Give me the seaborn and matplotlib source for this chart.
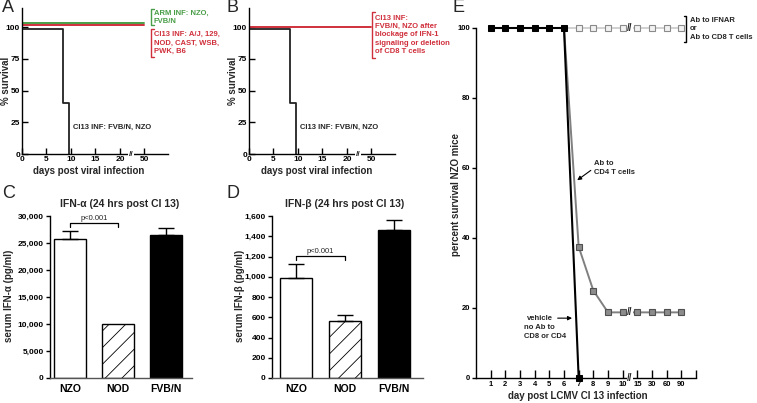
import numpy as np
import pandas as pd
import seaborn as sns
import matplotlib.pyplot as plt
from matplotlib.lines import Line2D
from matplotlib.ticker import StrMethodFormatter

# panels A / B : survival after infection (x positions, 25 = "50" after the axis break)
surv_tick_pos = [0, 5, 10, 15, 20, 25]
surv_tick_lab = ['0', '5', '10', '15', '20', '50']
km_days = [0, 8.4, 9.6]
km_fvb_nzo_A = [98.5, 40, 0]
km_fvb_nzo_B = [98.5, 40, 0]
flat_days = [0, 25]
arm_nzo_fvb = [103, 103]
cl13_other = [101.8, 101.8]
cl13_blocked = [100.3, 100.3]

# panels C / D : serum interferon
strains = ['NZO', 'NOD', 'FVB/N']
ifna_mean = [25800, 10000, 26400]
ifna_err = [1500, 0, 1350]
ifnb_mean = [990, 563, 1465]
ifnb_err = [135, 60, 100]

# panel E : survival of NZO mice
e_labels = ['1', '2', '3', '4', '5', '6', '7', '8', '9', '10', '15', '30', '60', '90']
vehicle = [100, 100, 100, 100, 100, 100, 0]
ab_cd4 = [100, 100, 100, 100, 100, 100, 37.5, 25, 18.75, 18.75, 18.75, 18.75, 18.75, 18.75]
ab_ifnar_cd8 = [100, 100, 100, 100, 100, 100, 100, 100, 100, 100, 100, 100, 100, 100]

GREEN = '#4a9e48'
RED = '#d0303c'

sns.set_theme(style='ticks')
plt.rcParams['font.family'] = ['Liberation Sans', 'DejaVu Sans']
plt.rcParams['font.weight'] = 'bold'
plt.rcParams['axes.linewidth'] = 1.0
plt.rcParams['hatch.linewidth'] = 0.6
plt.rcParams['axes.edgecolor'] = 'black'

W, H = 757, 403
fig = plt.figure(figsize=(W / 100, H / 100), dpi=100)


def add_ax(l, t, r, b):
    return fig.add_axes([l / W, 1 - b / H, (r - l) / W, (b - t) / H])


def ftext(x, y, s, **kw):
    kw.setdefault('va', 'center')
    return fig.text(x / W, 1 - y / H, s, **kw)


def bracket(x, y0, y1, color, tick=3):
    pts = [(x + tick, y0), (x, y0), (x, y1), (x + tick, y1)]
    fig.add_artist(Line2D([p[0] / W for p in pts], [1 - p[1] / H for p in pts],
                          color=color, lw=1.0, transform=fig.transFigure))


def survival_axes(ax):
    ax.set_xlim(0, 29.8)
    ax.set_ylim(0, 115)
    ax.set_xticks(surv_tick_pos, surv_tick_lab)
    ax.set_yticks([0, 25, 50, 75, 100])
    ax.tick_params(direction='in', length=4, width=1, labelsize=6, pad=1.5, colors='black')
    sns.despine(ax=ax)
    ax.text(22.3, 0, '//', ha='center', va='center', fontsize=6,
            bbox=dict(facecolor='white', edgecolor='none', pad=0.3))
    ax.set_xlabel('')
    ax.set_ylabel('')


# ---- A
axA = add_ax(22, 8, 168, 154)
sns.lineplot(x=flat_days, y=arm_nzo_fvb, color=GREEN, lw=1.4, ax=axA)
sns.lineplot(x=flat_days, y=cl13_other, color=RED, lw=1.4, ax=axA)
sns.lineplot(x=km_days, y=km_fvb_nzo_A, color='#222222', lw=1.3, drawstyle='steps-post', ax=axA)
survival_axes(axA)

# ---- B
axB = add_ax(249, 8, 395, 154)
sns.lineplot(x=km_days, y=km_fvb_nzo_B, color='#222222', lw=1.3, drawstyle='steps-post', ax=axB)
sns.lineplot(x=flat_days, y=cl13_blocked, color=RED, lw=1.4, ax=axB)
survival_axes(axB)

for x0 in (0, 227):
    ftext(x0 + 6, 81, '% survival', rotation=90, ha='center', fontsize=7)
    ftext(x0 + 89 + (228 if x0 else 0) - x0, 171, 'days post viral infection', ha='center', fontsize=7)
ftext(2, 8, 'A', fontsize=13, fontweight='normal')
ftext(227, 8, 'B', fontsize=13, fontweight='normal')
ftext(73, 127, 'Cl13 INF: FVB/N, NZO', fontsize=5.5)
ftext(300, 127, 'Cl13 INF: FVB/N, NZO', fontsize=5.5)

bracket(151, 9, 25, GREEN)
ftext(154, 17, 'ARM INF: NZO,\nFVB/N', color=GREEN, fontsize=5.5, linespacing=1.25)
bracket(151, 29, 57, RED)
ftext(154, 43, 'Cl13 INF: A/J, 129,\nNOD, CAST, WSB,\nPWK, B6', color=RED, fontsize=5.5, linespacing=1.25)
bracket(372, 12, 58, RED)
ftext(375, 35, 'Cl13 INF:\nFVB/N, NZO after\nblockage of IFN-1\nsignaling or deletion\nof CD8 T cells',
      color=RED, fontsize=5.5, linespacing=1.25)


# ---- C / D bars
def bar_panel(ax, means, errs, ymax, step, xlim, pbar, ptext):
    sns.barplot(x=strains, y=means, ax=ax, width=0.66, color='white', edgecolor='black',
                linewidth=1, errorbar=None)
    faces = ['white', 'white', 'black']
    hatches = [None, '//', None]
    for patch, fc, ht in zip(ax.patches, faces, hatches):
        patch.set_facecolor(fc)
        patch.set_edgecolor('black')
        if ht:
            patch.set_hatch(ht)
    idx = [i for i, e in enumerate(errs) if e > 0]
    ax.errorbar([i for i in idx], [means[i] for i in idx],
                yerr=[[0] * len(idx), [errs[i] for i in idx]],
                fmt='none', ecolor='black', elinewidth=1, capsize=6, capthick=1, zorder=1)
    ax.set_xlim(*xlim)
    ax.set_ylim(0, ymax)
    ax.set_yticks(np.arange(0, ymax + 1, step))
    ax.yaxis.set_major_formatter(StrMethodFormatter('{x:,.0f}'))
    ax.tick_params(axis='y', direction='out', length=3, width=1, labelsize=6, pad=1.5, colors='black')
    ax.tick_params(axis='x', length=0, labelsize=7.5, pad=4, colors='black')
    sns.despine(ax=ax)
    ax.spines['bottom'].set_color('#555555')
    ax.set_xlabel('')
    ax.set_ylabel('')
    y_low, y_high = pbar
    ax.plot([0, 0, 1, 1], [y_low, y_high, y_high, y_low], color='black', lw=0.9, clip_on=False)
    ax.text(0.5, ptext, 'p<0.001', ha='center', va='bottom', fontsize=5.5, fontweight='normal')


axC = add_ax(50, 216, 192, 378)
bar_panel(axC, ifna_mean, ifna_err, 30000, 5000, (-0.42, 2.54), (27950, 28650), 28800)
axD = add_ax(272, 216, 423, 378)
bar_panel(axD, ifnb_mean, ifnb_err, 1600, 200, (-0.49, 2.59), (1165, 1205), 1212)

ftext(120, 204, 'IFN-α (24 hrs post Cl 13)', ha='center', fontsize=7.5)
ftext(345, 204, 'IFN-β (24 hrs post Cl 13)', ha='center', fontsize=7.5)
ftext(9, 296, 'serum IFN-α (pg/ml)', rotation=90, ha='center', fontsize=7)
ftext(240, 296, 'serum IFN-β (pg/ml)', rotation=90, ha='center', fontsize=7)
ftext(2, 194, 'C', fontsize=13, fontweight='normal')
ftext(227, 194, 'D', fontsize=13, fontweight='normal')

# ---- E
axE = add_ax(476, 28, 696, 378)
pos = np.arange(1, len(e_labels) + 1)
sns.lineplot(x=pos[5:], y=ab_ifnar_cd8[5:], color='#c9c9c9', lw=1.2, marker='s', markersize=4.2,
             markerfacecolor='#f2f2f2', markeredgecolor='#8a8a8a', markeredgewidth=0.8,
             markevery=list(range(1, 9)), clip_on=False, ax=axE)
sns.lineplot(x=pos[5:], y=ab_cd4[5:], color='#808080', lw=1.4, marker='s', markersize=4.2,
             markerfacecolor='#8c8c8c', markeredgecolor='#505050', markeredgewidth=0.8,
             markevery=list(range(1, 9)), clip_on=False, ax=axE)
sns.lineplot(x=pos[:len(vehicle)], y=vehicle, color='black', lw=1.5, marker='s', markersize=4.2,
             markerfacecolor='black', markeredgecolor='black', clip_on=False, ax=axE)
axE.set_xlim(0, 15)
axE.set_ylim(0, 100)
axE.set_xticks(list(pos) + [15], e_labels + [''])
axE.set_yticks([0, 20, 40, 60, 80, 100])
axE.tick_params(axis='x', direction='in', length=6, width=1, labelsize=5.5, pad=2, colors='black')
axE.tick_params(axis='y', direction='out', length=3, width=1, labelsize=5.5, pad=1, colors='black')
sns.despine(ax=axE)
axE.set_xlabel('')
axE.set_ylabel('')
for yv in (100, ab_cd4[-1], 0):
    axE.text(10.5, yv, '//', ha='center', va='center', fontsize=7, zorder=5,
             bbox=dict(facecolor='white', edgecolor='none', pad=0.2))

axE.annotate('Ab to\nCD4 T cells', xy=(6.9, 56.5), xytext=(8.05, 60), fontsize=5.5,
             ha='left', va='center', linespacing=1.25,
             arrowprops=dict(arrowstyle='-|>', color='black', lw=0.8, mutation_scale=6,
                             shrinkA=0, shrinkB=0, relpos=(0, 0.5)))
axE.annotate('vehicle', xy=(6.55, 17.1), xytext=(5.25, 17.1), fontsize=5.5,
             ha='right', va='center',
             arrowprops=dict(arrowstyle='-|>', color='black', lw=0.8, mutation_scale=6,
                             shrinkA=1, shrinkB=0))
ftext(524, 332, 'no Ab to\nCD8 or CD4', fontsize=5.5, linespacing=1.25)
bracket(686, 16, 42, 'black', tick=-2.5)
ftext(690, 29, 'Ab to IFNAR\nor\nAb to CD8 T cells', fontsize=5.5, linespacing=1.25)

ftext(456, 195, 'percent survival NZO mice', rotation=90, ha='center', fontsize=7)
ftext(578, 396, 'day post LCMV Cl 13 infection', ha='center', fontsize=7)
ftext(452, 8, 'E', fontsize=13, fontweight='normal')

fig.savefig('out.png', dpi=100)
